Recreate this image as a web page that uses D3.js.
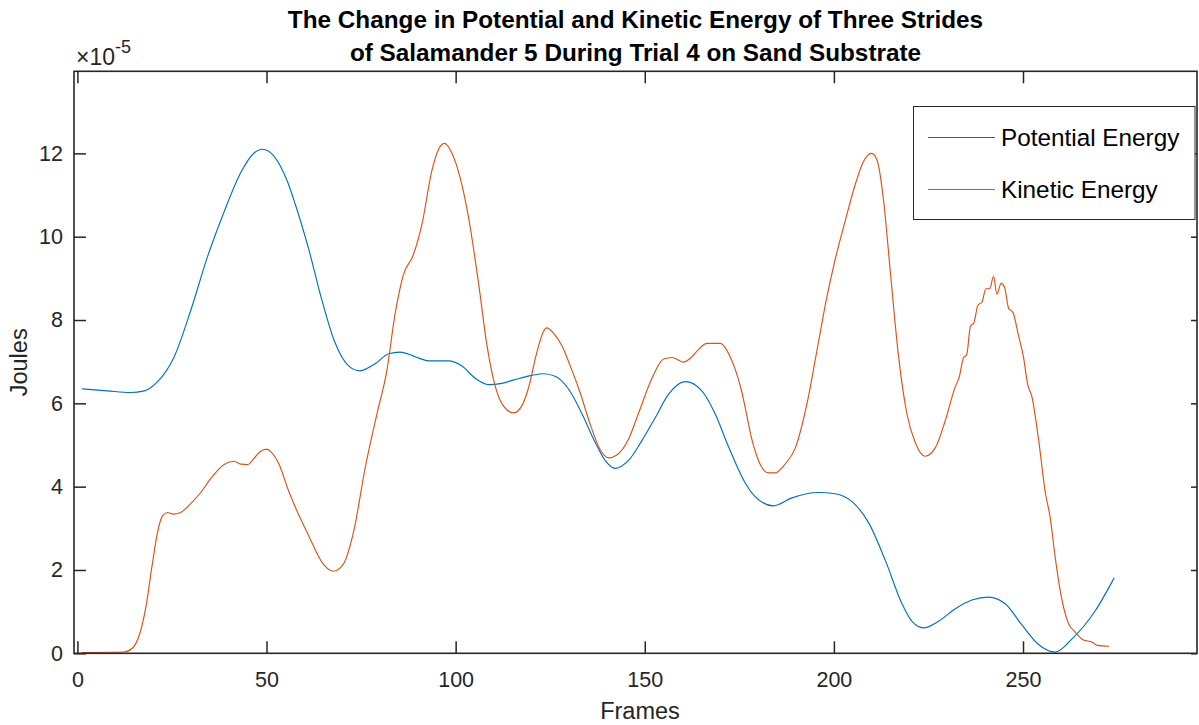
<!DOCTYPE html>
<html>
<head>
<meta charset="utf-8">
<script src="https://cdn.jsdelivr.net/npm/d3@7"></script>
<style>
  body { margin: 0; background: #fff; }
  svg { display: block; }
  text { font-family: "Liberation Sans", Arial, Helvetica, sans-serif; }
</style>
</head>
<body>
<svg id="chart" width="1199" height="725"></svg>
<script>
// Chart text
const titleLines = [
  "The Change in Potential and Kinetic Energy of Three Strides",
  "of Salamander 5 During Trial 4 on Sand Substrate"
];
const xLabel = "Frames";
const yLabel = "Joules";
const seriesNames = ["Potential Energy", "Kinetic Energy"];
const seriesColors = ["#0072BD", "#D95319"];

// Tick values (energy in units of 1e-5 J)
const xTicks = [0, 50, 100, 150, 200, 250];
const yTicks = [0, 2, 4, 6, 8, 10, 12];

// Potential energy (x 1e-5 J) by frame
const peFrames = [1.1, 7.9, 14.1, 17.7, 21.2, 25.6, 30.0, 34.4, 38.8, 43.2, 46.7, 48.9, 52.0, 55.5, 57.6,
  61.1, 64.6, 68.1, 71.7, 74.7, 78.7, 82.3, 85.3, 89.3, 92.8, 98.1, 101.6, 105.2, 108.7, 112.2, 115.7,
  120.1, 123.2, 126.3, 129.8, 133.4, 136.9, 139.5, 142.2, 145.7, 149.2, 152.8, 156.3, 160.7, 165.1,
  168.6, 172.1, 176.5, 178.3, 184.0, 188.9, 195.9, 200.3, 204.8, 209.2, 213.6, 218.0, 220.6, 223.7,
  227.7, 232.1, 236.5, 240.9, 245.3, 249.7, 254.1, 258.5, 262.9, 269.1, 274.1];
const peValues = [6.35, 6.30, 6.26, 6.30, 6.52, 7.12, 8.24, 9.52, 10.60, 11.54, 12.01, 12.10, 11.93, 11.33, 10.78,
  9.72, 8.49, 7.46, 6.90, 6.78, 6.95, 7.19, 7.23, 7.12, 7.02, 7.02, 6.90, 6.60, 6.45, 6.48, 6.57,
  6.67, 6.71, 6.65, 6.35, 5.75, 5.06, 4.63, 4.44, 4.63, 5.10, 5.66, 6.22, 6.52, 6.30,
  5.75, 4.97, 4.10, 3.85, 3.54, 3.73, 3.86, 3.83, 3.64, 3.13, 2.23, 1.19, 0.77, 0.61,
  0.77, 1.07, 1.28, 1.35, 1.19, 0.68, 0.21, 0.03, 0.34, 1.02, 1.81];

// Kinetic energy (x 1e-5 J) by frame
const keFrames = [1.1, 12.3, 14.5, 16.3, 18.1, 19.8, 21.2, 22.5, 23.8, 25.3, 27.3, 30.0, 32.6, 35.3, 38.8,
  41.4, 43.2, 45.0, 46.7, 48.3, 50.1, 51.1, 53.3, 56.0, 57.6, 61.1, 65.0, 67.7, 70.3, 73.0, 76.1,
  79.2, 81.8, 84.0, 86.2, 88.8, 91.1, 93.7, 95.5, 97.0, 99.0, 101.2, 103.4, 106.0, 108.3, 110.4,
  112.2, 115.3, 117.5, 119.2, 121.4, 123.2, 124.1, 125.9, 128.1, 130.3, 132.9, 135.6, 138.2, 140.4,
  142.6, 145.7, 148.3, 151.9, 154.9, 157.2, 160.2, 162.5, 164.2, 166.4, 169.9, 173.0, 173.9, 175.7,
  176.5, 178.3, 180.5, 182.7, 184.5, 187.1, 189.8, 192.9, 195.9, 198.2, 200.3, 203.0, 205.6, 207.8,
  210.0, 211.4, 213.1, 214.9, 217.1, 219.3, 221.5, 224.1, 226.8, 229.4, 232.1, 233.1, 234.3, 235.1,
  236.1, 237.0, 238.1, 239.1, 240.2, 241.2, 242.2, 243.1, 244.2, 245.1, 246.2, 247.3, 248.8, 250.1,
  251.3, 252.3, 254.1, 255.9, 257.2, 258.5, 260.1, 262.0, 263.8, 266.0, 268.2, 269.6, 272.8];
const keValues = [0.02, 0.03, 0.12, 0.42, 1.11, 2.14, 2.91, 3.30, 3.38, 3.34, 3.38, 3.60, 3.86, 4.20, 4.53,
  4.61, 4.54, 4.53, 4.68, 4.84, 4.90, 4.84, 4.54, 3.86, 3.51, 2.83, 2.14, 1.97, 2.14, 2.91, 4.46,
  5.75, 6.78, 8.15, 9.09, 9.56, 10.30, 11.58, 12.10, 12.24, 12.01, 11.41, 10.47, 8.92, 7.38, 6.43,
  6.00, 5.77, 5.94, 6.35, 7.20, 7.72, 7.81, 7.68, 7.38, 6.90, 6.26, 5.49, 4.89, 4.69,
  4.76, 5.14, 5.75, 6.60, 7.06, 7.10, 6.99, 7.12, 7.29, 7.44, 7.44, 7.03, 6.82, 6.26,
  5.92, 5.14, 4.54, 4.33, 4.33, 4.54, 4.93, 6.00, 7.46, 8.58, 9.44, 10.38, 11.24, 11.80,
  12.00, 11.84, 10.90, 9.18, 7.12, 5.75, 5.06, 4.73, 4.93, 5.57, 6.40, 6.62, 7.10, 7.16,
  7.85, 7.93, 8.36, 8.42, 8.75, 8.75, 9.05, 8.62, 8.88, 8.79, 8.28, 8.19, 7.63, 7.12,
  6.43, 6.18, 5.14, 3.86, 3.25, 2.31, 1.37, 0.72, 0.51, 0.32, 0.27, 0.19, 0.17];

// Layout
const W = 1199, H = 725;
const plot = { left: 74, right: 1197, top: 71.3, bottom: 653.3 };
const axisColor = "#262626";

const svg = d3.select("#chart");
svg.append("rect").attr("width", W).attr("height", H).attr("fill", "#fff");

const x = d3.scaleLinear().domain([-0.9, 296]).range([plot.left, plot.right]);
const y = d3.scaleLinear().domain([0, 13.97]).range([plot.bottom, plot.top]);

// Series
const series = [
  { name: seriesNames[0], color: seriesColors[0], pts: peFrames.map((f, i) => [f, peValues[i]]) },
  { name: seriesNames[1], color: seriesColors[1], pts: keFrames.map((f, i) => [f, keValues[i]]) }
];

const line = d3.line()
  .x(d => x(d[0]))
  .y(d => y(d[1]))
  .curve(d3.curveMonotoneX);

svg.append("clipPath").attr("id", "plotclip")
  .append("rect")
  .attr("x", plot.left).attr("y", plot.top)
  .attr("width", plot.right - plot.left).attr("height", plot.bottom - plot.top);

const lines = svg.append("g").attr("clip-path", "url(#plotclip)");
series.forEach(s => {
  lines.append("path")
    .datum(s.pts)
    .attr("fill", "none")
    .attr("stroke", s.color)
    .attr("stroke-width", 1.15)
    .attr("stroke-linejoin", "round")
    .attr("d", line);
});

// Axes with inward ticks on all four sides
function styleAxis(g) {
  g.select(".domain").remove();
  g.selectAll(".tick line").attr("stroke", axisColor).attr("stroke-width", 1.5);
  g.selectAll(".tick text")
    .attr("fill", axisColor)
    .style("font-size", "21.5px")
    .style("font-family", "'Liberation Sans', Arial, sans-serif");
}

svg.append("g")
  .attr("transform", `translate(0,${plot.bottom})`)
  .call(d3.axisBottom(x).tickValues(xTicks).tickSizeInner(-12).tickSizeOuter(0).tickPadding(18))
  .call(styleAxis);

svg.append("g")
  .attr("transform", `translate(0,${plot.top})`)
  .call(d3.axisTop(x).tickValues(xTicks).tickSizeInner(-12).tickSizeOuter(0).tickFormat(""))
  .call(styleAxis);

svg.append("g")
  .attr("transform", `translate(${plot.left},0)`)
  .call(d3.axisLeft(y).tickValues(yTicks).tickSizeInner(-12).tickSizeOuter(0).tickPadding(11))
  .call(styleAxis);

svg.append("g")
  .attr("transform", `translate(${plot.right},0)`)
  .call(d3.axisRight(y).tickValues(yTicks).tickSizeInner(-6).tickSizeOuter(0).tickFormat(""))
  .call(styleAxis);

// Axes box
svg.append("rect")
  .attr("x", plot.left).attr("y", plot.top)
  .attr("width", plot.right - plot.left).attr("height", plot.bottom - plot.top)
  .attr("fill", "none")
  .attr("stroke", axisColor)
  .attr("stroke-width", 1.6);

// Exponent label
const expo = svg.append("text")
  .attr("x", 76).attr("y", 65)
  .attr("fill", axisColor)
  .style("font-size", "23px");
expo.append("tspan").text("\u00D710");
expo.append("tspan").attr("dy", -12).style("font-size", "18px").text("-5");

// Title
const title = svg.append("text")
  .attr("x", (plot.left + plot.right) / 2)
  .attr("text-anchor", "middle")
  .attr("fill", "#000")
  .style("font-size", "24.3px")
  .style("font-weight", "bold");
titleLines.forEach((t, i) => {
  title.append("tspan")
    .attr("x", (plot.left + plot.right) / 2)
    .attr("y", 28 + i * 33)
    .text(t);
});

// Axis labels
svg.append("text")
  .attr("x", 640).attr("y", 719)
  .attr("text-anchor", "middle")
  .attr("fill", axisColor)
  .style("font-size", "23.5px")
  .text(xLabel);

svg.append("text")
  .attr("transform", `translate(27,${(plot.top + plot.bottom) / 2}) rotate(-90)`)
  .attr("text-anchor", "middle")
  .attr("fill", axisColor)
  .style("font-size", "23.5px")
  .text(yLabel);

// Legend
const legend = svg.append("g");
legend.append("rect")
  .attr("x", 913.5).attr("y", 106.5)
  .attr("width", 281.5).attr("height", 113)
  .attr("fill", "#fff")
  .attr("stroke", axisColor)
  .attr("stroke-width", 1);
series.forEach((s, i) => {
  const cy = 137.5 + i * 52;
  legend.append("line")
    .attr("x1", 928).attr("x2", 995)
    .attr("y1", cy).attr("y2", cy)
    .attr("stroke", s.color)
    .attr("stroke-width", 1.15);
  legend.append("text")
    .attr("x", 1001).attr("y", cy + 8.5)
    .attr("fill", "#000")
    .style("font-size", "24.3px")
    .text(s.name);
});
</script>
</body>
</html>
